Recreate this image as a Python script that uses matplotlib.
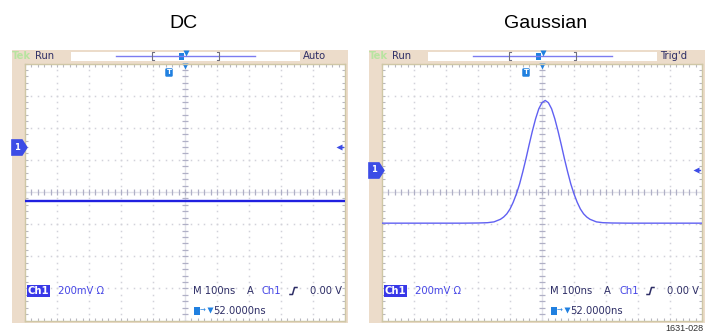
import numpy as np
import matplotlib
matplotlib.use('Agg')
import matplotlib.pyplot as plt
from matplotlib.patches import Rectangle

# traces in screen divisions (200 mV/div, 100 ns/div), centre of screen = 0
dc_t = [-5.0, 5.0]
dc_v = [-0.29, -0.29]

gauss_t = [-5.0, -2.5, -2.0, -1.7, -1.5, -1.3, -1.2, -1.1, -1.0, -0.9, -0.8,
           -0.7, -0.6, -0.5, -0.4, -0.3, -0.2, -0.1, 0.0, 0.1, 0.2, 0.3, 0.4,
           0.5, 0.6, 0.7, 0.8, 0.9, 1.0, 1.1, 1.2, 1.3, 1.4, 1.5, 1.7, 1.9,
           2.2, 2.7, 5.0]
gauss_v = [-0.97, -0.97, -0.965, -0.955, -0.93, -0.85, -0.78, -0.68, -0.53,
           -0.32, -0.06, 0.25, 0.63, 1.04, 1.48, 1.90, 2.28, 2.59, 2.78, 2.85,
           2.78, 2.59, 2.28, 1.90, 1.48, 1.04, 0.63, 0.25, -0.06, -0.32, -0.53,
           -0.68, -0.78, -0.85, -0.93, -0.955, -0.965, -0.97, -0.97]

titles = ['DC', 'Gaussian']
status = ['Auto', "Trig'd"]
ch1_level = [1.40, 0.69]     # ground / trigger level marker, divisions
trig_pos = 0.0               # trigger position, divisions
readout = ['200mV \u03a9', 'M 100ns', 'A', 'Ch1', '0.00 V', '52.0000ns']

W, H = 714, 333
BEIGE = '#ecdcca'
NAVY = '#2e2e66'
BLUE = '#4646e6'
TBLUE = '#2080e0'

fig = plt.figure(figsize=(W / 100, H / 100), dpi=100)

bg = fig.add_axes([0, 0, 1, 1], zorder=0)
bg.set_xlim(0, W)
bg.set_ylim(H, 0)
bg.axis('off')

top = fig.add_axes([0, 0, 1, 1], zorder=3)
top.set_xlim(0, W)
top.set_ylim(H, 0)
top.axis('off')
top.patch.set_alpha(0)

gx0, gx1, gy0, gy1 = 25, 345, 63.5, 320.5
shift = [0, 357]
txt = dict(fontsize=7.2, va='center', family='DejaVu Sans')

axes = []
for i in range(2):
    dx = shift[i]
    # beige instrument frame and record bar
    bg.add_patch(Rectangle((12 + dx, 50), 335.5, 273, fc=BEIGE, ec='none'))
    top.add_patch(Rectangle((71 + dx, 51.5), 229, 9.5, fc='white', ec='none'))
    top.plot([116 + dx, 255 + dx], [56, 56], color='#7c7cf0', lw=1)
    top.plot([154 + dx, 152 + dx, 152 + dx, 154 + dx], [52, 52, 60, 60], color='#707080', lw=0.8)
    top.plot([217 + dx, 219 + dx, 219 + dx, 217 + dx], [52, 52, 60, 60], color='#707080', lw=0.8)
    top.add_patch(Rectangle((179 + dx, 53), 5, 7, fc=TBLUE, ec='none'))
    top.plot(185.5 + dx, 52.5, marker='v', ms=4, color=TBLUE, mec='none')
    top.text(12 + dx, 56, 'Tek', color='#b8e4a0', fontweight='bold', **txt)
    top.text(35 + dx, 56, 'Run', color=NAVY, **txt)
    top.text(303 + dx, 56, status[i], color=NAVY, **txt)

    # title
    top.text(183 + dx * 1.016, 23, titles[i], fontsize=14, ha='center', va='center',
             family='Liberation Sans', color='black')

    # graticule
    ax = fig.add_axes([(gx0 + dx) / W, (H - gy1) / H, (gx1 - gx0) / W, (gy1 - gy0) / H], zorder=1)
    ax.set_xlim(-5, 5)
    ax.set_ylim(-4, 4)
    ax.set_xticks(np.arange(-5, 5.01, 0.2))
    ax.set_yticks(np.arange(-4, 4.01, 0.2))
    ax.set_xticklabels([])
    ax.set_yticklabels([])
    ax.tick_params(direction='in', length=2.5, width=0.8, color='#b8b8c0',
                   top=True, right=True)
    for s in ax.spines.values():
        s.set_color('#cfc7a6')
        s.set_linewidth(1)
    fine_y = np.arange(-4, 4.01, 0.2)
    fine_x = np.arange(-5, 5.01, 0.2)
    for g in range(-4, 5):
        if g != 0:
            ax.plot(np.full_like(fine_y, g), fine_y, ls='none', marker='s', ms=1.1,
                    mec='none', mfc='#d2d2da')
    for g in range(-3, 4):
        if g != 0:
            ax.plot(fine_x, np.full_like(fine_x, g), ls='none', marker='s', ms=1.1,
                    mec='none', mfc='#d2d2da')
    ax.axhline(0, color='#e2e2ea', lw=1)
    ax.axvline(0, color='#e2e2ea', lw=1)
    ax.plot(fine_x, np.zeros_like(fine_x), ls='none', marker='|', ms=4, mew=0.9, color='#b0b0c6')
    ax.plot(np.zeros_like(fine_y), fine_y, ls='none', marker='_', ms=4, mew=0.9, color='#b0b0c6')

    # trigger position markers
    ax.plot(trig_pos, 3.93, marker='v', ms=5, color=TBLUE, mec='none', clip_on=False)
    ax.text(trig_pos - 0.5, 3.72, 'T', color='white', fontsize=5, fontweight='bold',
            ha='center', va='center',
            bbox=dict(boxstyle='round,pad=0.18', fc=TBLUE, ec='none'))

    # channel 1 ground marker and trigger level arrow
    ax.plot(-5.2, ch1_level[i], marker=[(-1, -1), (0.35, -1), (1, 0), (0.35, 1), (-1, 1)],
            ms=12, color='#3c4ce6', mec='none', clip_on=False, zorder=5)
    ax.text(-5.25, ch1_level[i], '1', color='white', fontsize=6, fontweight='bold',
            ha='center', va='center', zorder=6, clip_on=False)
    ax.plot(4.82, ch1_level[i], marker='<', ms=4, color='#3c4ce6', mec='none', clip_on=False)
    ax.plot([4.82, 4.95], [ch1_level[i], ch1_level[i]], color='#3c4ce6', lw=1)
    axes.append(ax)

    # readout
    y1, y2 = 291, 311
    top.text(38.5 + dx, y1, 'Ch1', color='white', ha='center', fontweight='bold',
             bbox=dict(boxstyle='square,pad=0.1', fc='#3838e8', ec='none'), **txt)
    top.text(58 + dx, y1, readout[0], color=BLUE, **txt)
    top.text(193 + dx, y1, readout[1], color=NAVY, **txt)
    top.text(247 + dx, y1, readout[2], color=NAVY, **txt)
    top.text(262 + dx, y1, readout[3], color=BLUE, **txt)
    top.plot([290 + dx, 292.5 + dx, 294.5 + dx, 297 + dx], [294.5, 294.5, 287.5, 287.5],
             color=NAVY, lw=1.1)
    top.text(310 + dx, y1, readout[4], color=NAVY, **txt)
    top.add_patch(Rectangle((194 + dx, 307), 6, 8, fc=TBLUE, ec='none'))
    top.text(200 + dx, y2, '\u2192', color=TBLUE, fontsize=5, va='center')
    top.plot(209.5 + dx, y2 - 1, marker='v', ms=4, color=TBLUE, mec='none')
    top.text(213 + dx, y2, readout[5], color=NAVY, **txt)

axes[0].plot(dc_t, dc_v, color='#2020e0', lw=1.7, zorder=4)
axes[1].plot(gauss_t, gauss_v, color='#6060f2', lw=1.0, zorder=4)

top.text(703, 324, '1631-028', fontsize=6.5, ha='right', va='top', color='#303030',
         family='Liberation Sans')

fig.savefig('out.png', dpi=100)
